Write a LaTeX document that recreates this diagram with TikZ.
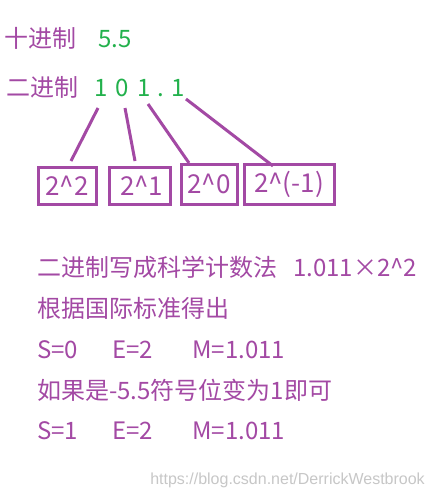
\documentclass[tikz,border=0pt]{standalone}
\usepackage{fontspec}
\setmainfont{Noto Sans CJK SC}
\newfontfamily\wmfont{Liberation Sans}
\definecolor{pp}{HTML}{A349A4}
\definecolor{gg}{HTML}{22B14C}
\begin{document}
\begin{tikzpicture}[x=0.75pt,y=-0.75pt,
  lbl/.style={anchor=base west,inner sep=0,text=pp,font=\fontsize{18pt}{20pt}\selectfont},
  num/.style={anchor=base,inner sep=0,text=gg,font=\fontsize{18pt}{20pt}\selectfont},
  pbox/.style={draw=pp,line width=2.25pt,inner sep=0,text=pp,font=\fontsize{19.5pt}{21pt}\selectfont},
  link/.style={draw=pp,line width=2.25pt}]
\useasboundingbox[fill=white] (0,0) rectangle (431,496);
% top labels
\node[lbl] (dec) at (4,47) {十进制};
\node[num,anchor=base west] (five) at (98,47) {5.5};
\node[lbl] (bin) at (6,96) {二进制};
\node[num] (d1) at (101,96) {1};
\node[num] (d2) at (122,96) {0};
\node[num] (d3) at (144,96) {1};
\node[num] (dp) at (161,96) {.};
\node[num] (d4) at (178,96) {1};
% boxes
\node[pbox,minimum width=58*0.75pt,minimum height=37*0.75pt] (b1) at (67,185.5) {2\^{}2};
\node[pbox,minimum width=61*0.75pt,minimum height=37*0.75pt] (b2) at (139.5,185.5) {\,2\^{}1};
\node[pbox,minimum width=56*0.75pt,minimum height=40*0.75pt] (b3) at (209,184) {2\^{}0};
\node[pbox,minimum width=90*0.75pt,minimum height=40*0.75pt] (b4) at (289,184) {2\^{}(-1)};
% connector ends
\coordinate (s1) at (98,108);  \coordinate (e1) at (71,161);
\coordinate (s2) at (125,108); \coordinate (e2) at (135,161);
\coordinate (s3) at (148,104); \coordinate (e3) at (189,163);
\coordinate (s4) at (186,99);  \coordinate (e4) at (273,166);
\draw[link] (s1) -- (e1);
\draw[link] (s2) -- (e2);
\draw[link] (s3) -- (e3);
\draw[link] (s4) -- (e4);
% lower text
\node[lbl] (t1) at (37,276) {二进制写成科学计数法\hspace{12pt}1.011×2\^{}2};
\node[lbl] (t2) at (37,317) {根据国际标准得出};
\node[lbl] (t3) at (37,358) {\makebox[56.25pt][l]{S=0}\makebox[60pt][l]{E=2}M=1.011};
\node[lbl] (t4) at (37,399) {如果是-5.5符号位变为1即可};
\node[lbl] (t5) at (37,439) {\makebox[56.25pt][l]{S=1}\makebox[60pt][l]{E=2}M=1.011};
\node[anchor=base west,inner sep=0,text=black!22,font=\wmfont\fontsize{12pt}{14pt}\selectfont] (wm) at (150,484) {https://blog.csdn.net/DerrickWestbrook};
\end{tikzpicture}
\end{document}
